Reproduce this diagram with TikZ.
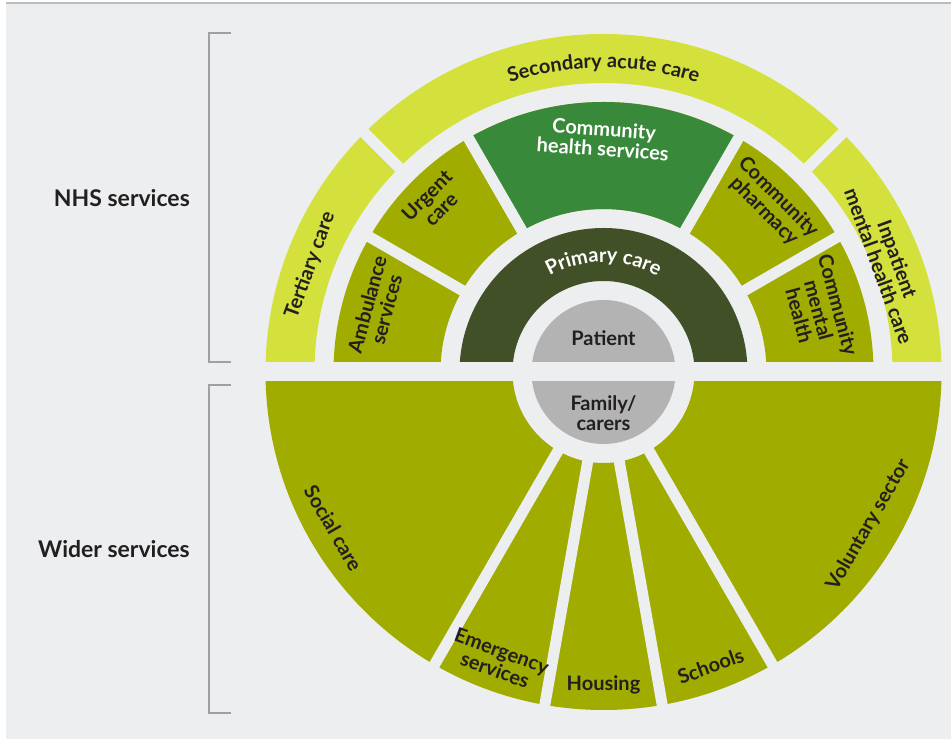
\documentclass[tikz,border=0pt]{standalone}
\usepackage{fontspec}
\setmainfont{Lato}
\usetikzlibrary{decorations.text}

\definecolor{panelgrey}{RGB}{237,238,240}
\definecolor{outerlime}{RGB}{212,225,60}
\definecolor{olive}{RGB}{161,172,0}
\definecolor{chsgreen}{RGB}{57,137,59}
\definecolor{primarydark}{RGB}{65,80,39}
\definecolor{coregrey}{RGB}{179,179,179}
\definecolor{inkdark}{RGB}{35,31,32}
\definecolor{bracketgrey}{RGB}{160,160,160}

\tikzset{
    sectorlabel/.style={font=\bfseries\fontsize{20}{20}\selectfont, text=inkdark, align=center, inner sep=0pt},
    sidelabel/.style={font=\bfseries\fontsize{23}{26}\selectfont, text=inkdark, anchor=east, inner sep=0pt},
    gapline/.style={draw=panelgrey, line width=11},
    bracketline/.style={draw=bracketgrey, line width=1.2},
}

\begin{document}
\begin{tikzpicture}[x=1pt, y=1pt]

    %% Services around the patient

    \newcommand{\ringpiece}[5]{
        \fill[#1] (#2:#4) arc[start angle=#2, end angle=#3, radius=#4]
            -- (#3:#5) arc[start angle=#3, end angle=#2, radius=#5] -- cycle;
    }
    \newcommand{\ringgap}[3]{
        \draw[gapline] (#1:#2) -- (#1:#3);
    }
    \newcommand{\arclabel}[3]{
        \path[decorate, decoration={text along path, text align=center,
            text={|\bfseries\fontsize{20}{20}\selectfont\color{#1}|#3}}]
            (150:#2) arc[start angle=150, end angle=30, radius=#2];
    }

    % Background
    \useasboundingbox (0,0) rectangle (951,739);
    \fill[white] (0,0) rectangle (951,739);
    \fill[panelgrey] (6,0) rectangle (951,736);
    \draw[bracketgrey!70, line width=1.5] (6,736) -- (951,736);

    % Brackets
    \draw[bracketline] (231,706) -- (209,706) -- (209,377) -- (231,377);
    \draw[bracketline] (231,354) -- (209,354) -- (209,26) -- (231,26);
    \node[sidelabel] (nhs) at (190,541) {NHS services};
    \node[sidelabel] (wider) at (190,190) {Wider services};

    \begin{scope}[shift={(603.5,367)}]
        % Upper half
        \ringpiece{outerlime}{0}{180}{338}{289}
        \ringpiece{olive}{0}{180}{270}{163}
        \ringpiece{chsgreen}{60}{120}{270}{163}
        \ringpiece{primarydark}{0}{180}{144}{91}

        % Lower half
        \ringpiece{olive}{180}{360}{338}{91}

        % Patient and family
        \fill[coregrey] (0,0) circle (72);

        % Gaps
        \fill[panelgrey] (-345,-9.5) rectangle (345,9.5);
        \foreach \a in {45,135} {
            \ringgap{\a}{284}{343}
        }
        \foreach \a in {30,60,120,150} {
            \ringgap{\a}{158}{275}
        }
        \foreach \a in {240,260,280,300} {
            \ringgap{\a}{86}{343}
        }

        % Labels
        \arclabel{inkdark}{304}{Secondary acute care}
        \arclabel{white}{110}{Primary care}
        \node[sectorlabel, rotate=70] (tertiary) at (160:312) {Tertiary care};
        \node[sectorlabel, rotate=-70] (inpatient) at (21:305) {Inpatient\\mental health care};
        \node[sectorlabel, rotate=75] (ambulance) at (164:236) {Ambulance\\services};
        \node[sectorlabel, rotate=45] (urgent) at (135:240) {Urgent\\care};
        \node[sectorlabel, text=white, rotate=-4] (community) at (90:233) {Community\\health services};
        \node[sectorlabel, rotate=-45] (pharmacy) at (45:237) {Community\\pharmacy};
        \node[sectorlabel, rotate=-75] (mental) at (16:224) {Community\\mental\\health};
        \node[sectorlabel] (patient) at (0,34) {Patient};
        \node[sectorlabel] (family) at (0,-41) {Family/\\carers};
        \node[sectorlabel, rotate=-60] (social) at (210:312) {Social care};
        \node[sectorlabel, rotate=-20] (emergency) at (250:307) {Emergency\\services};
        \node[sectorlabel] (housing) at (270:313) {Housing};
        \node[sectorlabel, rotate=20] (schools) at (290:313) {Schools};
        \node[sectorlabel, rotate=60] (voluntary) at (330:306) {Voluntary sector};
    \end{scope}

\end{tikzpicture}
\end{document}
